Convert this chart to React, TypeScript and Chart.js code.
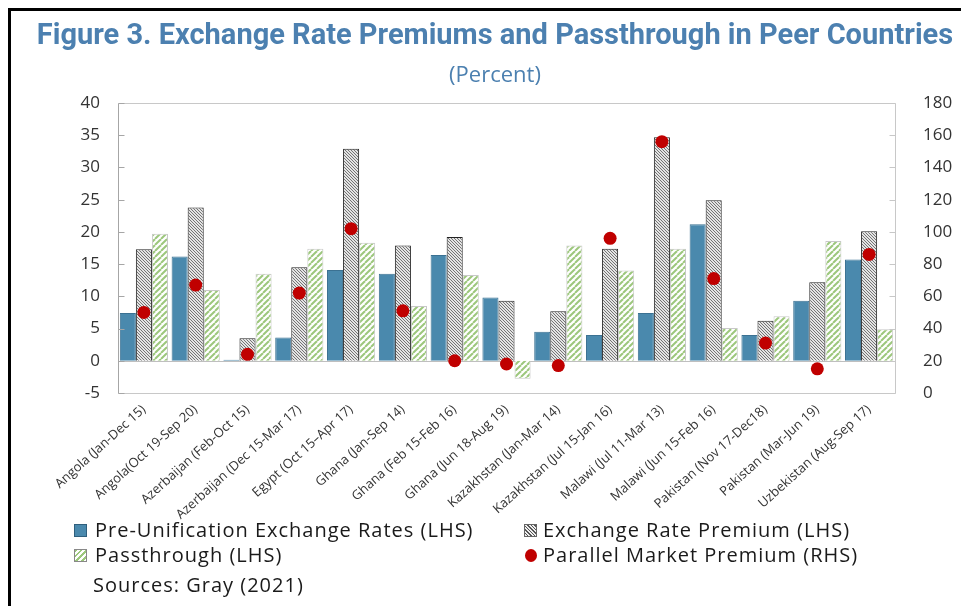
import React, { useEffect, useRef } from "react";
import { Chart, registerables } from "chart.js";
Chart.register(...registerables);

const categories = [
  "Angola (Jan-Dec 15)",
  "Angola(Oct 19-Sep 20)",
  "Azerbaijan (Feb-Oct 15)",
  "Azerbaijan (Dec 15-Mar 17)",
  "Egypt (Oct 15–Apr 17)",
  "Ghana (Jan-Sep 14)",
  "Ghana (Feb 15-Feb 16)",
  "Ghana (Jun 18-Aug 19)",
  "Kazakhstan (Jan-Mar 14)",
  "Kazakhstan (Jul 15-Jan 16)",
  "Malawi (Jul 11-Mar 13)",
  "Malawi (Jun 15-Feb 16)",
  "Pakistan (Nov 17-Dec18)",
  "Pakistan (Mar-Jun 19)",
  "Uzbekistan (Aug-Sep 17)",
];
const preUnification = [7.4, 16.2, 0.15, 3.6, 14.1, 13.5, 16.4, 9.8, 4.5, 4.0, 7.4, 21.2, 4.0, 9.3, 15.7];
const exchangePremium = [17.3, 23.8, 3.5, 14.5, 32.9, 17.9, 19.2, 9.3, 7.7, 17.4, 34.7, 24.9, 6.2, 12.2, 20.1];
const passthrough = [19.7, 11.0, 13.5, 17.4, 18.3, 8.5, 13.3, -2.8, 17.9, 14.0, 17.4, 5.1, 6.9, 18.6, 4.9];
const parallelPremium = [50, 67, 24, 62, 102, 51, 20, 18, 17, 96, 156, 71, 31, 15, 86];

const leftTicks = { min: -5, max: 40, step: 5 };
const rightTicks = { min: 0, max: 180, step: 20 };

const TITLE = "Figure 3. Exchange Rate Premiums and Passthrough in Peer Countries";
const SUBTITLE = "(Percent)";
const SOURCE = "Sources: Gray (2021)";
const LEGEND = [
  "Pre-Unification Exchange Rates (LHS)",
  "Exchange Rate Premium (LHS)",
  "Passthrough (LHS)",
  "Parallel Market Premium (RHS)",
];

const BLUE = "#4A89AD";
const RED = "#C00000";
const TITLE_BLUE = "#4C80B0";
const GREEN = "#9CC77C";

function makePattern(kind: "premium" | "pass"): CanvasPattern | string {
  const c = document.createElement("canvas");
  const s = kind === "premium" ? 3 : 6;
  c.width = s;
  c.height = s;
  const g = c.getContext("2d");
  if (!g) return "#ccc";
  g.fillStyle = kind === "premium" ? "#e4e4e4" : "#ffffff";
  g.fillRect(0, 0, s, s);
  g.strokeStyle = kind === "premium" ? "#666666" : GREEN;
  g.lineWidth = kind === "premium" ? 0.9 : 2;
  for (let k = -1; k <= 1; k++) {
    g.beginPath();
    if (kind === "premium") {
      g.moveTo(k * s, 0);
      g.lineTo(k * s + s, s);
    } else {
      g.moveTo(k * s, s);
      g.lineTo(k * s + s, 0);
    }
    g.stroke();
  }
  const p = g.createPattern(c, "repeat");
  return p || "#ccc";
}

const framePlugin = {
  id: "frame",
  beforeDatasetsDraw(chart: any) {
    const { ctx, chartArea: a, scales } = chart;
    ctx.save();
    ctx.strokeStyle = "#bfbfbf";
    ctx.lineWidth = 1;
    const y0 = Math.round(scales.y.getPixelForValue(0)) + 0.5;
    ctx.beginPath();
    ctx.moveTo(a.left, y0);
    ctx.lineTo(a.right, y0);
    ctx.stroke();
    ctx.restore();
  },
  afterDatasetsDraw(chart: any) {
    const { ctx, chartArea: a, scales } = chart;
    ctx.save();
    ctx.lineWidth = 1;
    ctx.strokeStyle = "#c8c8c8";
    const L = Math.round(a.left) + 0.5;
    const R = Math.round(a.right) + 0.5;
    const T = Math.round(a.top) + 0.5;
    const B = Math.round(a.bottom) + 0.5;
    ctx.beginPath();
    ctx.moveTo(L, T);
    ctx.lineTo(R, T);
    ctx.lineTo(R, B);
    ctx.lineTo(L, B);
    ctx.stroke();
    ctx.strokeStyle = "#a6a6a6";
    ctx.beginPath();
    ctx.moveTo(L, T);
    ctx.lineTo(L, B);
    ctx.stroke();
    for (let v = leftTicks.min; v <= leftTicks.max; v += leftTicks.step) {
      const y = Math.round(scales.y.getPixelForValue(v)) + 0.5;
      ctx.beginPath();
      ctx.moveTo(L, y);
      ctx.lineTo(L + 6, y);
      ctx.stroke();
    }
    ctx.strokeStyle = "#c8c8c8";
    for (let v = rightTicks.min; v <= rightTicks.max; v += rightTicks.step) {
      const y = Math.round(scales.y1.getPixelForValue(v)) + 0.5;
      ctx.beginPath();
      ctx.moveTo(R, y);
      ctx.lineTo(R - 6, y);
      ctx.stroke();
    }
    ctx.restore();
  },
};

export default function App() {
  const ref = useRef<HTMLCanvasElement | null>(null);

  useEffect(() => {
    if (!ref.current) return;
    const premiumPat = makePattern("premium");
    const passPat = makePattern("pass");
    const chart = new Chart(ref.current, {
      type: "bar",
      data: {
        labels: categories,
        datasets: [
          {
            type: "line" as any,
            label: LEGEND[3],
            data: parallelPremium,
            yAxisID: "y1",
            showLine: false,
            pointRadius: 6.5,
            pointBackgroundColor: RED,
            pointBorderWidth: 0,
            backgroundColor: RED,
            borderColor: RED,
            order: 0,
          } as any,
          {
            label: LEGEND[0],
            data: preUnification,
            backgroundColor: BLUE,
            borderColor: "#3b7192",
            borderWidth: 1,
            yAxisID: "y",
            order: 1,
          },
          {
            label: LEGEND[1],
            data: exchangePremium,
            backgroundColor: premiumPat as any,
            borderColor: "#222222",
            borderWidth: 1,
            yAxisID: "y",
            order: 1,
          },
          {
            label: LEGEND[2],
            data: passthrough,
            backgroundColor: passPat as any,
            borderColor: "#c8c8c8",
            borderWidth: 1,
            yAxisID: "y",
            order: 1,
          },
        ],
      },
      options: {
        animation: false,
        responsive: true,
        maintainAspectRatio: false,
        datasets: { bar: { categoryPercentage: 0.93, barPercentage: 1.0 } },
        layout: { padding: { left: 10, right: 0, top: 0, bottom: 0 } },
        plugins: {
          legend: { display: false },
          tooltip: { enabled: false },
          title: {
            display: true,
            text: TITLE,
            color: TITLE_BLUE,
            font: { family: "Roboto, 'Open Sans', sans-serif", size: 29, weight: "bold" },
            padding: { top: 8.6, bottom: 8.4 },
          },
          subtitle: {
            display: true,
            text: SUBTITLE,
            color: TITLE_BLUE,
            font: { family: "'Open Sans', sans-serif", size: 22, weight: "normal" },
            padding: { top: 0, bottom: 13.8 },
          },
        },
        scales: {
          x: {
            grid: { display: false },
            border: { display: false },
            ticks: {
              autoSkip: false,
              minRotation: 42,
              maxRotation: 42,
              color: "#333",
              padding: 1,
              font: { family: "'Open Sans', sans-serif", size: 13 },
            },
            afterFit(s: any) {
              s.height = 213;
            },
          },
          y: {
            position: "left",
            min: leftTicks.min,
            max: leftTicks.max,
            grid: { display: false },
            border: { display: false },
            ticks: {
              stepSize: leftTicks.step,
              color: "#333",
              padding: 10,
              font: { family: "'Open Sans', sans-serif", size: 17 },
            },
            afterFit(s: any) {
              s.width = 97;
            },
          },
          y1: {
            position: "right",
            min: rightTicks.min,
            max: rightTicks.max,
            grid: { display: false },
            border: { display: false },
            ticks: {
              stepSize: rightTicks.step,
              color: "#333",
              padding: 20,
              font: { family: "'Open Sans', sans-serif", size: 17 },
            },
            afterFit(s: any) {
              s.width = 74;
            },
          },
        },
      },
      plugins: [framePlugin],
    });
    return () => chart.destroy();
  }, []);

  const textStyle: React.CSSProperties = {
    position: "absolute",
    fontFamily: "'Open Sans', sans-serif",
    fontSize: 20,
    letterSpacing: 1,
    lineHeight: "24px",
    color: "#1a1a1a",
    whiteSpace: "nowrap",
  };
  const sw = (left: number, cy: number, bg: string, border: string): React.CSSProperties => ({
    position: "absolute",
    left,
    top: cy - 6.5,
    width: 13,
    height: 13,
    boxSizing: "border-box",
    background: bg,
    border: `1px solid ${border}`,
  });
  const row1 = 519;
  const row2 = 544;

  return (
    <div
      style={{
        position: "relative",
        width: 961,
        height: 598,
        boxSizing: "border-box",
        borderTop: "3px solid #000",
        borderLeft: "3px solid #000",
        background: "#fff",
        overflow: "hidden",
      }}
    >
      <div style={{ position: "absolute", left: 0, top: 0, width: 958, height: 595 }}>
        <canvas ref={ref} />
      </div>
      <div style={sw(63, row1, BLUE, "#2f5f7d")} />
      <div style={{ ...textStyle, left: 84, top: row1 - 12 }}>{LEGEND[0]}</div>
      <div
        style={sw(
          513,
          row1,
          "repeating-linear-gradient(45deg, #eee 0px, #eee 1.5px, #555 1.5px, #555 2.5px)",
          "#666"
        )}
      />
      <div style={{ ...textStyle, left: 532, top: row1 - 12 }}>{LEGEND[1]}</div>
      <div
        style={sw(
          63,
          row2,
          "repeating-linear-gradient(-45deg, #fff 0px, #fff 2px, #9CC77C 2px, #9CC77C 4px)",
          "#888"
        )}
      />
      <div style={{ ...textStyle, left: 84, top: row2 - 12 }}>{LEGEND[2]}</div>
      <div
        style={{
          position: "absolute",
          left: 514,
          top: row2 - 6.5,
          width: 12,
          height: 13,
          borderRadius: "50%",
          background: RED,
        }}
      />
      <div style={{ ...textStyle, left: 532, top: row2 - 12 }}>{LEGEND[3]}</div>
      <div style={{ ...textStyle, left: 82, top: 574 - 12 }}>{SOURCE}</div>
    </div>
  );
}
